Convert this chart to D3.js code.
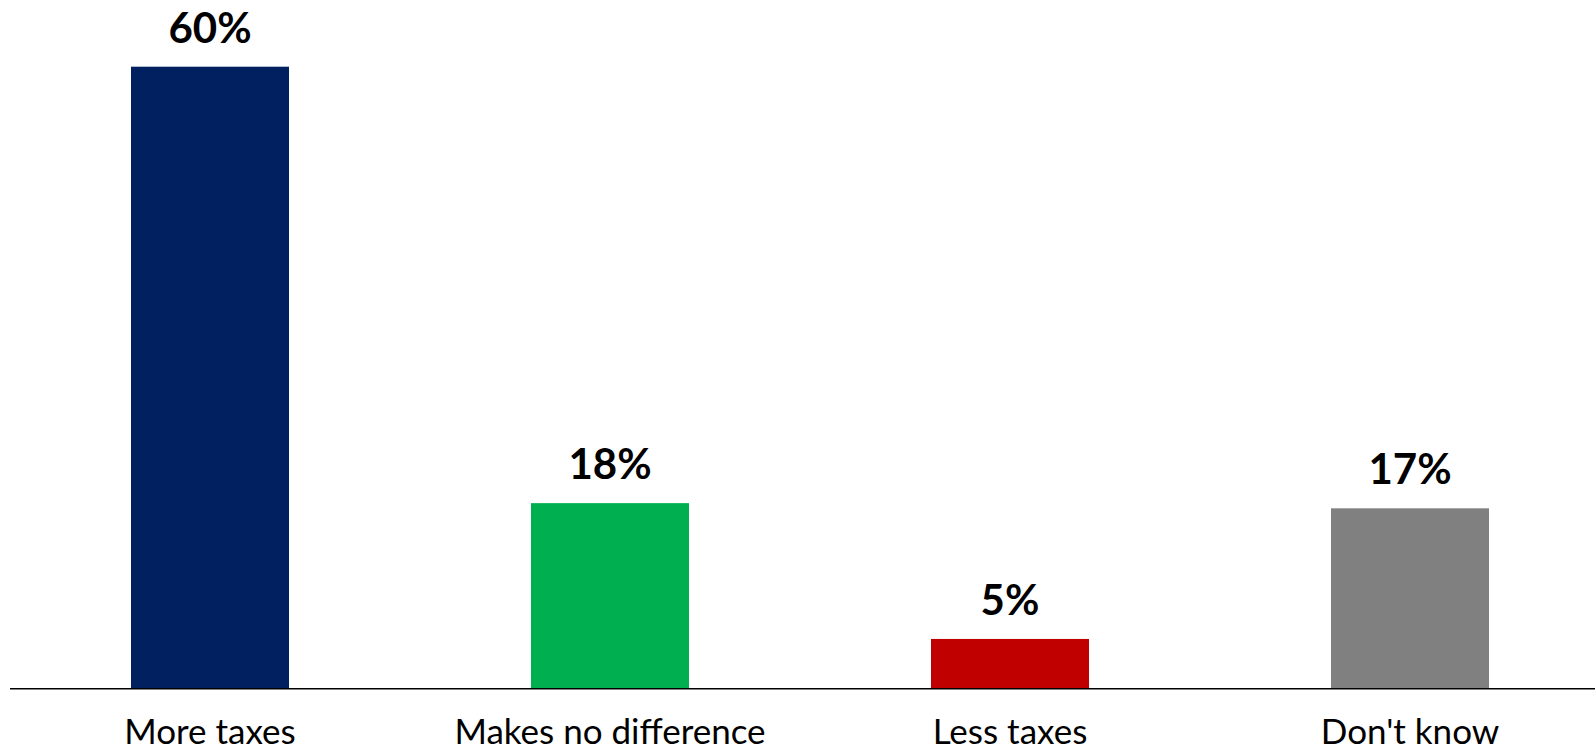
<!DOCTYPE html>
<html><head><meta charset="utf-8">
<script src="https://cdn.jsdelivr.net/npm/d3@7"></script>
<style>html,body{margin:0;padding:0;background:#fff;overflow:hidden}</style>
</head><body>
<svg id="chart" width="1595" height="753"></svg>
<script>
const categories = ["More taxes", "Makes no difference", "Less taxes", "Don't know"];
const values = [60, 17.9, 4.8, 17.4];
const labels = ["60%", "18%", "5%", "17%"];
const colors = ["#002060", "#00B050", "#C00000", "#808080"];

const svg = d3.select("#chart");
const baseY = 688.7;
const x = d3.scaleBand().domain(categories).range([10, 1610]).paddingInner(0.605).paddingOuter(0.3025);
const y = d3.scaleLinear().domain([0, 60]).range([baseY, 66.7]);

svg.selectAll("rect.bar").data(categories).join("rect")
  .attr("class", "bar")
  .attr("x", d => x(d))
  .attr("width", x.bandwidth())
  .attr("y", (d, i) => y(values[i]))
  .attr("height", (d, i) => baseY - y(values[i]))
  .attr("fill", (d, i) => colors[i]);

svg.selectAll("text.val").data(categories).join("text")
  .attr("class", "val")
  .attr("x", d => x(d) + x.bandwidth() / 2)
  .attr("y", (d, i) => y(values[i]) - 24)
  .attr("text-anchor", "middle")
  .attr("font-family", "Lato, 'Open Sans', sans-serif")
  .attr("font-weight", "bold")
  .attr("font-size", 42)
  .attr("fill", "#000")
  .text((d, i) => labels[i]);

const axis = d3.axisBottom(x).tickSize(0).tickPadding(0);
const g = svg.append("g").attr("transform", `translate(0,${baseY})`).call(axis);
g.select(".domain").remove();
g.selectAll(".tick text")
  .attr("y", 55)
  .attr("dy", 0)
  .attr("font-family", "Lato, 'Open Sans', sans-serif")
  .attr("font-size", 35)
  .attr("fill", "#000");

svg.append("line")
  .attr("x1", 10).attr("x2", 1595)
  .attr("y1", baseY).attr("y2", baseY)
  .attr("stroke", "#000").attr("stroke-width", 1.5);
</script>
</body></html>
